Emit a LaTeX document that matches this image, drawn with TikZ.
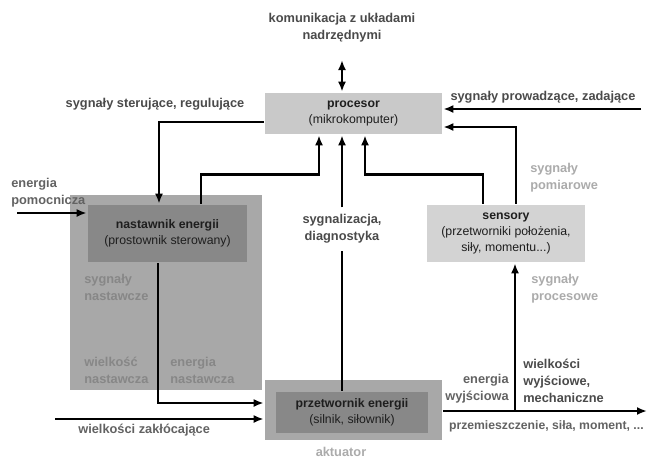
\documentclass[tikz,border=0pt]{standalone}
\usepackage{fontspec}
\setmainfont{Liberation Sans}
\usetikzlibrary{arrows.meta,positioning}

\definecolor{outerg}{HTML}{A8A8A8}
\definecolor{innerg}{HTML}{888888}
\definecolor{procg}{HTML}{C9C9C9}
\definecolor{sensg}{HTML}{D3D3D3}
\definecolor{labdark}{HTML}{4A4A4A}
\definecolor{labmid}{HTML}{626262}
\definecolor{labbox}{HTML}{878787}
\definecolor{lablight}{HTML}{ABABAB}
\definecolor{textblack}{HTML}{1E1E1E}

\tikzset{
  blok/.style={fill=#1, draw=none, inner sep=0pt, align=center, text=textblack,
    font=\fontsize{12.3pt}{16pt}\selectfont},
  opis/.style={text=#1, inner sep=0pt, align=center,
    font=\fontsize{12.8pt}{16.8pt}\selectfont\bfseries},
}

\begin{document}
\begin{tikzpicture}[x=1pt, y=-1pt, line width=2.7pt, >={Latex[length=10pt,width=8pt]}]
  \useasboundingbox (0,0) rectangle (649,459);

  \node[blok=outerg, minimum width=192pt, minimum height=195pt] (nastawnikbg) at (166,292.5) {};
  \node[blok=innerg, minimum width=159pt, minimum height=57pt] (nastawnik) at (167.5,233.5) {\textbf{nastawnik energii}\\(prostownik sterowany)};
  \node[blok=outerg, minimum width=177pt, minimum height=60pt] (aktuator) at (353.5,410) {};
  \node[blok=innerg, minimum width=152pt, minimum height=41pt] (przetwornik) at (352,412.5) {\textbf{przetwornik energii}\\(silnik, siłownik)};
  \node[blok=procg, minimum width=177pt, minimum height=41pt] (procesor) at (353.5,113.5) {\textbf{procesor}\\(mikrokomputer)};
  \node[blok=sensg, minimum width=158pt, minimum height=57pt] (sensory) at (506,233.5) {\textbf{sensory}\\(przetworniki położenia,\\siły, momentu...)};

  \node[opis=labdark] (komunikacja) at (342,28) {komunikacja z układami\\nadrzędnymi};
  \node[opis=labdark] (sterujace) at (155,104) {sygnały sterujące, regulujące};
  \node[opis=labdark] (prowadzace) at (543,97) {sygnały prowadzące, zadające};
  \node[opis=labmid, anchor=west, align=left] (pomocnicza) at (10,192.5) {energia\\pomocnicza};
  \node[opis=labbox, anchor=west, align=left] (nastawcze) at (83,287.5) {sygnały\\nastawcze};
  \node[opis=labbox, anchor=west, align=left] (wielkoscnast) at (83,370.5) {wielkość\\nastawcza};
  \node[opis=labbox, anchor=west, align=left] (energianast) at (169,370.5) {energia\\nastawcza};
  \node[opis=labdark, inner ysep=6pt] (sygnalizacja) at (342,229) {sygnalizacja,\\diagnostyka};
  \node[opis=lablight, anchor=west, align=left] (pomiarowe) at (529,177.5) {sygnały\\pomiarowe};
  \node[opis=lablight, anchor=west, align=left] (procesowe) at (530,288.5) {sygnały\\procesowe};
  \node[opis=labmid, anchor=east, align=right] (wyjsciowa) at (510,388.5) {energia\\wyjściowa};
  \node[opis=labdark, anchor=west, align=left] (wyjsciowe) at (522,381) {wielkości\\wyjściowe,\\mechaniczne};
  \node[opis=labmid, anchor=east, font=\fontsize{12.2pt}{16pt}\selectfont\bfseries] (przemieszczenie) at (645,426) {przemieszczenie, siła, moment, ...};
  \node[opis=lablight] (aktuatorlab) at (341,452) {aktuator};
  \node[opis=labmid, anchor=west] (zaklocajace) at (77,430) {wielkości zakłócające};

  \coordinate (kom) at (342,60);
  \coordinate (zad) at (641,109);
  \coordinate (pom) at (17,213);
  \coordinate (zak) at (55,419);
  \coordinate (wyj) at (647,411);
  \coordinate (odgal) at (515,411);

  \draw[<->] (kom) -- (kom |- procesor.north);
  \draw[->] ([yshift=-8.5pt]procesor.west) -| ([xshift=-8.5pt]nastawnik.north);
  \draw[->] ([xshift=33.5pt]nastawnik.north) -- ++(0,-29) -| ([xshift=-34.5pt]procesor.south);
  \draw (sygnalizacja |- przetwornik.north) -- (sygnalizacja.south);
  \draw[->] (sygnalizacja.north) -- (sygnalizacja |- procesor.south);
  \draw[->] ([xshift=-23pt]sensory.north) -- ++(0,-29) -| ([xshift=11.5pt]procesor.south);
  \draw[->] ([xshift=10pt]sensory.north) |- ([yshift=-13.5pt]procesor.east);
  \draw[->] (zad) -- (zad -| procesor.east);
  \draw[->] (pom) -- (pom -| nastawnik.west);
  \draw[->] ([xshift=-9.5pt]nastawnik.south) |- ([yshift=7pt]aktuator.west);
  \draw[->] (zak) -- (zak -| aktuator.west);
  \draw[->] (aktuator.east |- wyj) -- (wyj);
  \draw[->] (odgal) -- (odgal |- sensory.south);
\end{tikzpicture}
\end{document}
